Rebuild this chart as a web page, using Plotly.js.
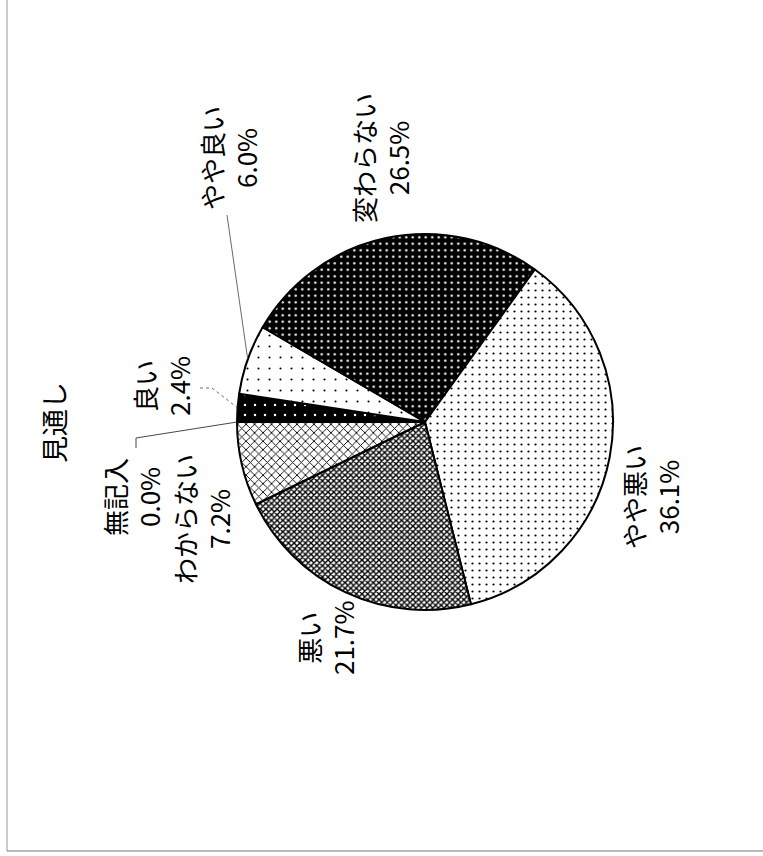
<!DOCTYPE html>
<html><head><meta charset="utf-8">
<script src="https://cdn.plot.ly/plotly-3.0.1.min.js"></script>
<style>html,body{margin:0;padding:0;background:#fff}#chart{width:763px;height:856px}</style>
</head><body><div id="chart"></div>
<script>
// ---- data ----
const chartTitle = '見通し';
const categories = ['良い', 'やや良い', '変わらない', 'やや悪い', '悪い', 'わからない', '無記入'];
const values = [2.4, 6.0, 26.5, 36.1, 21.7, 7.2, 0.0];
const valueLabels = ['2.4%', '6.0%', '26.5%', '36.1%', '21.7%', '7.2%', '0.0%'];

// ---- styles ----
const patternShapes = ['.', '.', '.', '.', 'x', 'x', ''];
const patternFg = ['#ffffff', '#000000', '#ffffff', '#000000', '#000000', '#000000', '#000000'];
const patternBg = ['#000000', '#ffffff', '#000000', '#ffffff', '#ffffff', '#ffffff', '#ffffff'];
const patternSize = [10, 11, 6.5, 7, 4, 6, 8];
const patternSolidity = [0.05, 0.03, 0.12, 0.08, 0.58, 0.28, 0.3];

// ---- layout (page is rotated: text reads bottom-to-top) ----
const W = 763, H = 856;
const pieBox = {x0: 237, x1: 613, y0: 234, y1: 610}; // pixels
const labelPos = [ // pixel centres of each label block
  [161, 386], [228, 158], [380, 158], [650, 497], [325, 638], [201, 519], [131, 497]
];
const FONT = "'Liberation Sans Narrow', 'Noto Sans CJK JP', sans-serif";

const px = x => x / W, py = y => 1 - y / H;
const cx = (pieBox.x0 + pieBox.x1) / 2, cy = (pieBox.y0 + pieBox.y1) / 2;
const R = (pieBox.x1 - pieBox.x0) / 2;
const ROT = -90; // first slice starts at 9 o'clock, clockwise
const total = values.reduce((a, b) => a + b, 0);
function edgePoint(i) {
  let before = 0;
  for (let k = 0; k < i; k++) before += values[k];
  const f = (before + values[i] / 2) / total;
  const a = (ROT + 360 * f) * Math.PI / 180;
  return [cx + R * Math.sin(a), cy - R * Math.cos(a)];
}

const annotations = categories.map((c, i) => ({
  xref: 'paper', yref: 'paper', x: px(labelPos[i][0]), y: py(labelPos[i][1]),
  xanchor: 'center', yanchor: 'middle', showarrow: false, textangle: -90,
  text: c + '<br>' + valueLabels[i], align: 'center',
  font: {family: FONT, size: 26, color: '#000'}
}));
annotations.push({
  xref: 'paper', yref: 'paper', x: px(53), y: py(423), xanchor: 'center', yanchor: 'middle',
  showarrow: false, textangle: -90, text: chartTitle,
  font: {family: FONT, size: 27, color: '#000'}
});

const pGood = edgePoint(0), pSlGood = edgePoint(1), pNone = edgePoint(6);
const toPath = pts => pts.map((p, k) => (k ? 'L' : 'M') + px(p[0]) + ',' + py(p[1])).join(' ');
const shapes = [
  {type: 'path', xref: 'paper', yref: 'paper', path: toPath([[227, 215], pSlGood]),
   line: {color: '#444', width: 0.8}},
  {type: 'path', xref: 'paper', yref: 'paper', path: toPath([[200, 388], [212, 388], pGood]),
   line: {color: '#444', width: 0.8, dash: 'dot'}},
  {type: 'path', xref: 'paper', yref: 'paper', path: toPath([[136, 448], [136, 438], pNone]),
   line: {color: '#333', width: 0.9}},
  {type: 'line', xref: 'paper', yref: 'paper', x0: px(7), x1: px(7), y0: py(0), y1: py(851),
   line: {color: '#999', width: 1}},
  {type: 'line', xref: 'paper', yref: 'paper', x0: px(7), x1: px(763), y0: py(851), y1: py(851),
   line: {color: '#777', width: 1.2}}
];

const trace = {
  type: 'pie', labels: categories, values: values, sort: false,
  direction: 'clockwise', rotation: ROT, textinfo: 'none', hoverinfo: 'label+percent',
  domain: {x: [px(pieBox.x0), px(pieBox.x1)], y: [py(pieBox.y1), py(pieBox.y0)]},
  marker: {
    colors: patternBg,
    line: {color: '#000', width: 2},
    pattern: {shape: patternShapes, fgcolor: patternFg, bgcolor: patternBg,
              size: patternSize, solidity: patternSolidity, fillmode: 'replace'}
  }
};

Plotly.newPlot('chart', [trace], {
  width: W, height: H, margin: {l: 0, r: 0, t: 0, b: 0},
  paper_bgcolor: '#fff', showlegend: false,
  annotations: annotations, shapes: shapes
}, {staticPlot: true});
</script></body></html>
